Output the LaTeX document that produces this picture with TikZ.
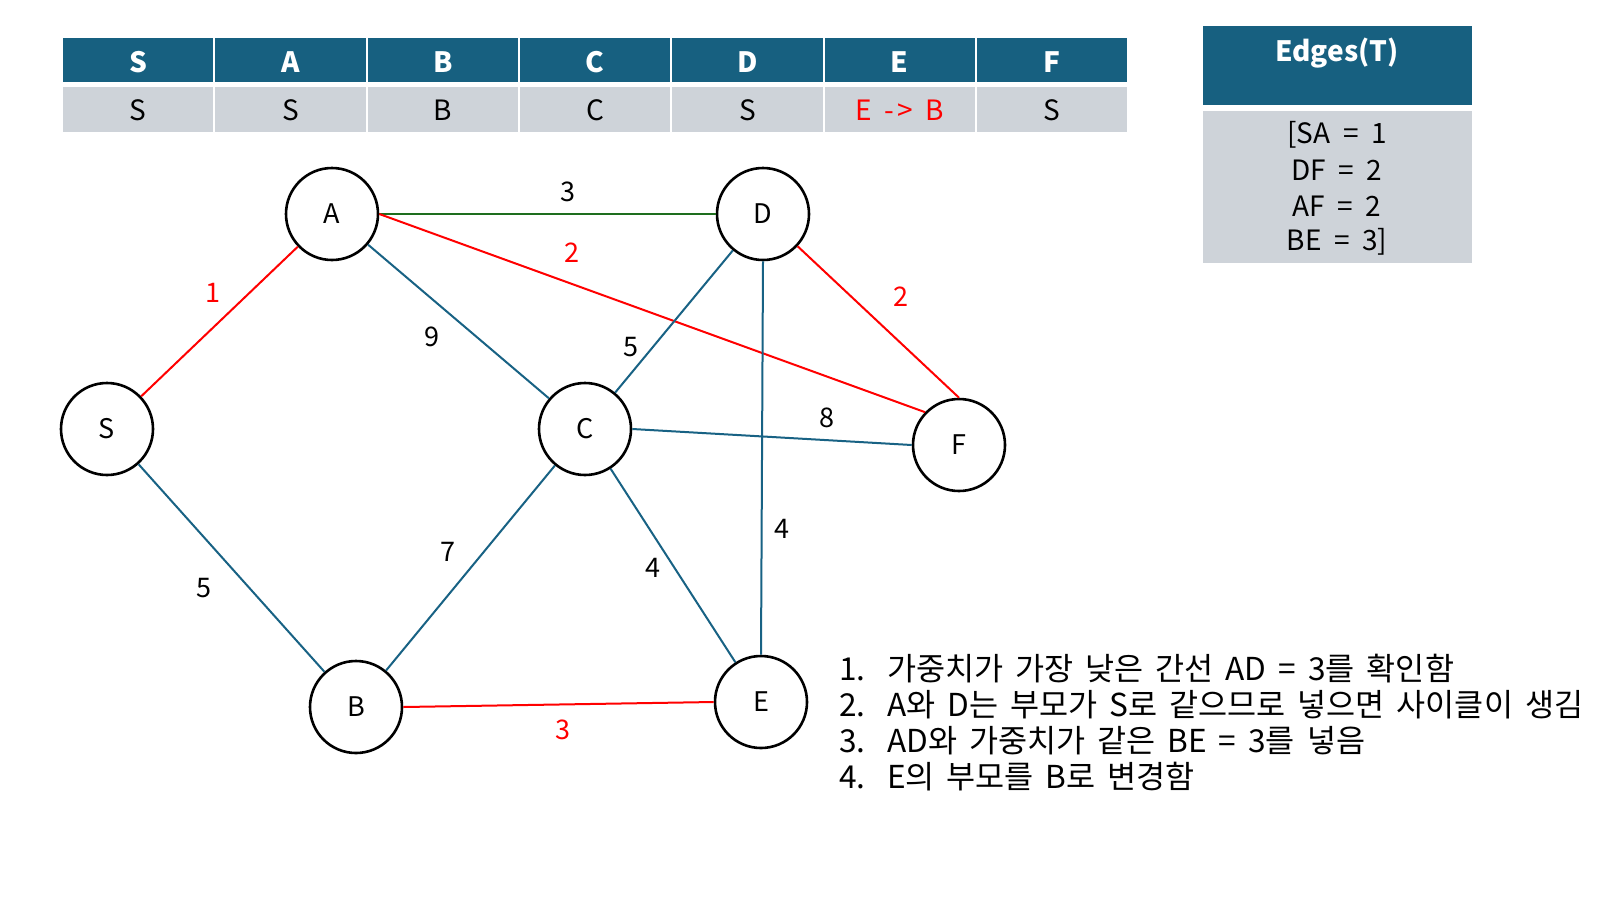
\documentclass[tikz,border=0pt]{standalone}
\usepackage{fontspec}
\setmainfont{Noto Sans CJK KR}
\definecolor{hdr}{RGB}{23,96,128}
\definecolor{cellg}{RGB}{206,211,217}
\definecolor{eblue}{RGB}{24,98,132}
\definecolor{egreen}{RGB}{30,110,30}
\definecolor{ered}{RGB}{255,0,0}
\newcommand{\mystepfont}{\fontsize{15.8}{18}\selectfont\spaceskip=6pt\relax}
\tikzset{
  px/.style={x=0.5pt,y=-0.5pt},
  vert/.style={circle,draw=black,line width=1.3pt,minimum size=46pt,inner sep=0pt,font=\fontsize{13.5}{15}\selectfont},
  eb/.style={draw=eblue,line width=1pt},
  er/.style={draw=ered,line width=1pt},
  eg/.style={draw=egreen,line width=1pt},
  wl/.style={font=\fontsize{13.5}{15}\selectfont,text=black},
  rl/.style={font=\fontsize{13.5}{15}\selectfont,text=ered},
  hcell/.style={fill=hdr,draw=white,line width=1pt},
  gcell/.style={fill=cellg,draw=white,line width=1pt},
  htxt/.style={font=\fontsize{14}{16}\selectfont\bfseries,text=white},
  gtxt/.style={font=\fontsize{14}{16}\selectfont},
  steptxt/.style={font=\mystepfont,anchor=west}
}
\begin{document}
\begin{tikzpicture}[px]
\useasboundingbox (0,0) rectangle (1600,900);
\fill[white] (0,0) rectangle (1600,900);
% table
\foreach \i/\h/\v in {0/S/S,1/A/S,2/B/B,3/C/C,4/D/S,6/F/S}{
  \path[hcell] ({62+\i*152.3},37) rectangle ({62+(\i+1)*152.3},83);
  \path[gcell] ({62+\i*152.3},86) rectangle ({62+(\i+1)*152.3},133);
  \node[htxt] (h\h) at ({62+(\i+0.5)*152.3},62) {\h};
  \node[gtxt] (v\h) at ({62+(\i+0.5)*152.3},110) {\v};
}
\path[hcell] ({62+5*152.3},37) rectangle ({62+6*152.3},83);
\path[gcell] ({62+5*152.3},86) rectangle ({62+6*152.3},133);
\node[htxt] (hE) at ({62+5.5*152.3},62) {E};
\node[gtxt,text=ered] (vE) at ({62+5.5*152.3},110) {E\hspace{6pt}-\hspace{2pt}>\hspace{6pt}B};
% edges box
\path[hcell] (1202,25) rectangle (1473,106);
\path[gcell] (1202,110) rectangle (1473,264);
\node[htxt] (et) at (1337,53) {Edges(T)};
\node[gtxt] (e1) at (1337,135) {[SA \ = \ 1};
\node[gtxt] (e2) at (1337,170) {DF \ = \ 2};
\node[gtxt] (e3) at (1337,206) {AF \ = \ 2};
\node[gtxt] (e4) at (1337,242) {BE \ = \ 3]};
% nodes
\node[vert] (A) at (332,214) {A};
\node[vert] (D) at (763,214) {D};
\node[vert] (S) at (107,429) {S};
\node[vert] (C) at (585,429) {C};
\node[vert] (F) at (959,445) {F};
\node[vert] (B) at (356,707) {B};
\node[vert] (E) at (761,702) {E};
% connectors
\draw[er] (S) -- (A);
\draw[eb] (S) -- (B);
\draw[eg] (A.east) -- (D.west);
\draw[eb] (A) -- (C);
\draw[er] (A.east) -- (F.136);
\draw[eb] (D) -- (C);
\draw[eb] (D.south) -- (E.north);
\draw[er] (D.-43) -- (F.north);
\draw[eb] (C.east) -- (F.west);
\draw[eb] (C) -- (B);
\draw[eb] (C) -- (E);
\draw[er] (B.east) -- (E.west);
% labels
\node[wl] (lAD) at (568,192) {3};
\node[rl] (lAF) at (572,253) {2};
\node[rl] (lSA) at (213,293) {1};
\node[wl] (lAC) at (432,337) {9};
\node[wl] (lDC) at (631,347) {5};
\node[rl] (lDF) at (901,297) {2};
\node[wl] (lCF) at (827,418) {8};
\node[wl] (lCB) at (448,552) {7};
\node[wl] (lSB) at (204,588) {5};
\node[wl] (lCE) at (653,568) {4};
\node[wl] (lDE) at (782,529) {4};
\node[rl] (lBE) at (563,730) {3};
% steps
\node[steptxt] (n1) at (832,669) {1.};
\node[steptxt] (t1) at (880,669) {가중치가 가장 낮은 간선 AD = 3를 확인함};
\node[steptxt] (n2) at (832,705) {2.};
\node[steptxt] (t2) at (880,705) {A와 D는 부모가 S로 같으므로 넣으면 사이클이 생김};
\node[steptxt] (n3) at (832,741) {3.};
\node[steptxt] (t3) at (880,741) {AD와 가중치가 같은 BE = 3를 넣음};
\node[steptxt] (n4) at (832,777) {4.};
\node[steptxt] (t4) at (880,777) {E의 부모를 B로 변경함};
\end{tikzpicture}
\end{document}
